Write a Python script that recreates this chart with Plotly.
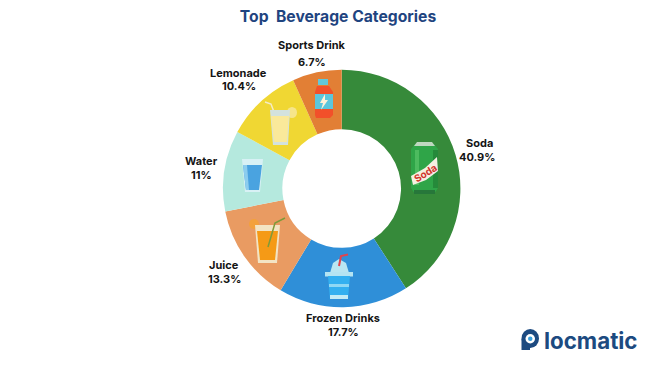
import plotly.graph_objects as go

W, H = 651, 366
categories = ["Soda", "Frozen Drinks", "Juice", "Water", "Lemonade", "Sports Drink"]
shares = [40.9, 17.7, 13.3, 11, 10.4, 6.7]
colors = ["#368A3A", "#2F8FD8", "#E99B62", "#B5E9DE", "#F0D733", "#E27F35"]
name_pos = [(479, 143), (343, 318), (224, 265), (201.5, 161), (238.5, 72.5), (311.5, 45)]
value_pos = [(477.5, 156.5), (343, 332), (224, 279), (201.5, 175), (238.5, 86), (311.5, 62)]
FONT = "Inter"

def px(x): return x / W
def py(y): return 1 - y / H

fig = go.Figure(go.Pie(
    labels=categories, values=shares, sort=False, direction="clockwise", rotation=0,
    hole=0.5, textinfo="none", marker=dict(colors=colors, line=dict(width=0)),
    domain=dict(x=[px(223), px(460.4)], y=[py(307.2), py(69.8)]), showlegend=False,
))

shapes = []
def rect(x0, y0, x1, y1, c):
    shapes.append(dict(type="rect", xref="paper", yref="paper", x0=px(x0), x1=px(x1),
                       y0=py(y1), y1=py(y0), fillcolor=c, line=dict(width=0), layer="above"))
def circ(x0, y0, x1, y1, c):
    shapes.append(dict(type="circle", xref="paper", yref="paper", x0=px(x0), x1=px(x1),
                       y0=py(y1), y1=py(y0), fillcolor=c, line=dict(width=0), layer="above"))
def poly(pts, c=None, lc=None, lw=0):
    d = "M" + " L".join(f"{px(x):.5f},{py(y):.5f}" for x, y in pts)
    if c: d += " Z"
    s = dict(type="path", xref="paper", yref="paper", path=d, layer="above",
             line=dict(width=lw, color=lc or "rgba(0,0,0,0)"))
    if c: s["fillcolor"] = c
    shapes.append(s)

# soda can
poly([(411, 149), (415, 144), (434, 144), (438, 149), (438, 188), (434, 194), (415, 194), (411, 188)], "#2FA548")
poly([(414, 146), (417, 142), (432, 142), (435, 146)], "#BFD8C0")
rect(415, 150, 419, 185, "#4DBB5F")
rect(433, 150, 438, 188, "#258A3A")
poly([(411, 176), (425, 168), (437, 157), (438, 171), (426, 180), (413, 185)], "#F5F0E2")
rect(414, 190, 435, 194, "#27773A")
# sports bottle
rect(318, 79, 328, 85, "#62C7D8")
poly([(317, 86), (329, 86), (333, 92), (333, 115), (330, 118), (316, 118), (315, 115), (315, 92)], "#F2502A")
rect(315, 94, 333, 109, "#5CC6DC")
poly([(325, 94), (320, 103), (323, 103), (321, 110), (328, 100), (325, 100)], "#FFF2D8")
# lemonade
circ(287, 107, 297, 118, "#F6E58A")
poly([(265, 102), (271, 104), (274, 112)], None, "#F5EBC6", 1.5)
poly([(270, 110), (290, 110), (288, 145), (273, 145)], "#D3E2DE")
poly([(271, 116), (289, 116), (287, 142), (274, 142)], "#FAE99A")
# water
poly([(242, 159), (263, 159), (260, 192), (245, 192)], "#D8F1F5")
poly([(243, 165), (262, 165), (259, 190), (246, 190)], "#4AA3E0")
poly([(243, 165), (247, 165), (249, 190), (246, 190)], "#8CCDEE")
# juice
circ(249, 219, 259, 229, "#F3A13C")
poly([(255, 225), (280, 225), (277, 263), (258, 263)], "#F3E4C4")
poly([(257, 231), (278, 231), (275, 260), (260, 260)], "#F59A16")
poly([(268, 247), (275, 223), (285, 218)], None, "#7E9A3A", 1.5)
# frozen drink
poly([(330, 273), (333, 263), (339, 259), (346, 263), (349, 273)], "#B9E6F2")
poly([(339, 266), (341, 256), (348, 254.5)], None, "#E0444E", 2)
rect(325, 272, 353, 276.5, "#B4E4F2")
poly([(328, 276), (350, 276), (348, 299), (330, 299)], "#33B0F0")
rect(329, 284, 349, 287, "#8FD8F4")
rect(330, 295, 348, 299, "#C3ECF6")
# logo mark
circ(521.5, 329, 539, 348, "#1C4A80")
rect(521.5, 339, 530, 350, "#1C4A80")
circ(525.5, 334, 535, 343.5, "#FFFFFF")
circ(528, 336.5, 532.5, 341, "#3AA0DC")

ann = []
def label(text, x, y, size=11, color="#141414", angle=0):
    ann.append(dict(text=f"<b>{text}</b>", x=px(x), y=py(y), xref="paper", yref="paper",
                    showarrow=False, align="center", xanchor="center", yanchor="middle", textangle=angle,
                    font=dict(family=FONT, size=size, color=color)))
for c, v, np_, vp in zip(categories, shares, name_pos, value_pos):
    label(c, *np_)
    label(f"{v}%", *vp)
label("Soda", 425, 173, size=10, color="#D2342C", angle=-32)
label("locmatic", 590, 340, size=22.3, color="#1C4A80")

fig.update_layout(
    width=W, height=H, margin=dict(l=0, r=0, t=0, b=0), paper_bgcolor="#FFFFFF",
    title=dict(text="<b>Top  Beverage Categories</b>", x=338 / W, y=py(17), xanchor="center", yanchor="middle",
               font=dict(family=FONT, size=15.7, color="#1F4480")),
    shapes=shapes, annotations=ann,
)
fig.write_html("out.html", config={"displayModeBar": False},
               post_script="document.body.style.margin='0';document.documentElement.style.overflow='hidden';")
